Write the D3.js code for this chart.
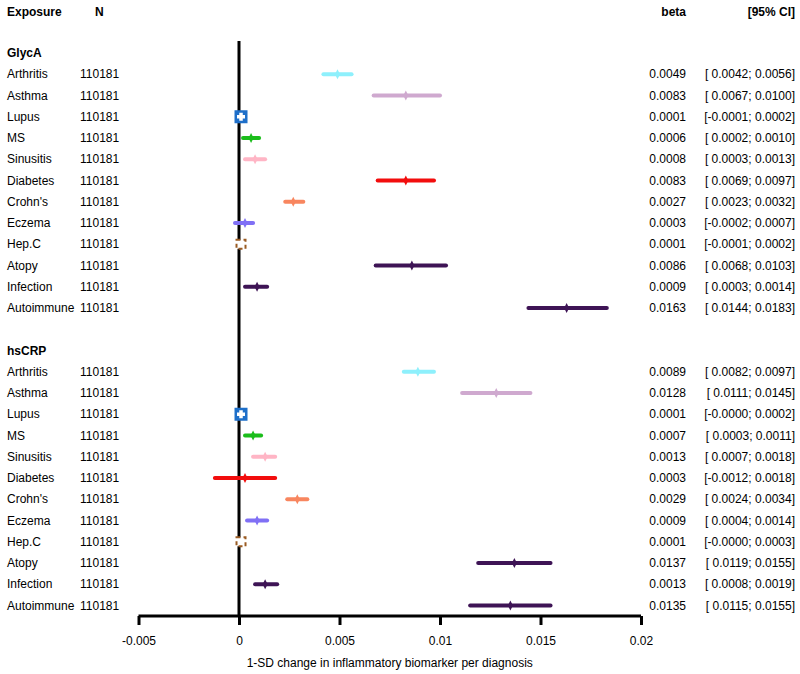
<!DOCTYPE html>
<html><head><meta charset="utf-8">
<script src="https://cdn.jsdelivr.net/npm/d3@7/dist/d3.min.js"></script>
<style>body{margin:0;background:#fff}svg{display:block}text{font-family:"Liberation Sans",Arial,sans-serif;font-size:12px;fill:#000}</style>
</head><body><svg id="c" width="800" height="674"></svg>
<script>
const exposures = ["Arthritis","Asthma","Lupus","MS","Sinusitis","Diabetes","Crohn's","Eczema","Hep.C","Atopy","Infection","Autoimmune"];
const colors = ["#8ef0fc","#cfa9cf","#1e6fc9","#1bbd1b","#ffb5c5","#f20d0d","#f8865f","#8070f5","#9a5b22","#3e1455","#3e1455","#3e1455"];
const groups = ["GlycA","hsCRP"];
const nValues = [110181,110181,110181,110181,110181,110181,110181,110181,110181,110181,110181,110181];
const glycaBeta = [0.0049,0.0083,0.0001,0.0006,0.0008,0.0083,0.0027,0.0003,0.0001,0.0086,0.0009,0.0163];
const glycaLo   = [0.0042,0.0067,-0.0001,0.0002,0.0003,0.0069,0.0023,-0.0002,-0.0001,0.0068,0.0003,0.0144];
const glycaHi   = [0.0056,0.0100,0.0002,0.0010,0.0013,0.0097,0.0032,0.0007,0.0002,0.0103,0.0014,0.0183];
const crpBeta = [0.0089,0.0128,0.0001,0.0007,0.0013,0.0003,0.0029,0.0009,0.0001,0.0137,0.0013,0.0135];
const crpLo   = [0.0082,0.0111,-0.0000,0.0003,0.0007,-0.0012,0.0024,0.0004,-0.0000,0.0119,0.0008,0.0115];
const crpHi   = [0.0097,0.0145,0.0002,0.0011,0.0018,0.0018,0.0034,0.0014,0.0003,0.0155,0.0019,0.0155];
const loStr = {GlycA:["0.0042","0.0067","-0.0001","0.0002","0.0003","0.0069","0.0023","-0.0002","-0.0001","0.0068","0.0003","0.0144"],
               hsCRP:["0.0082","0.0111","-0.0000","0.0003","0.0007","-0.0012","0.0024","0.0004","-0.0000","0.0119","0.0008","0.0115"]};
const xTicks = [-0.005,0,0.005,0.01,0.015,0.02];
const xTickLabels = ["-0.005","0","0.005","0.01","0.015","0.02"];

const svg = d3.select("#c");
const x = d3.scaleLinear().domain([-0.005,0.02]).range([138.5,641]);
const y = d3.scaleLinear().domain([0,26]).range([53,605.5]);

const rows = [];
[[glycaBeta,glycaLo,glycaHi],[crpBeta,crpLo,crpHi]].forEach((s,g)=>{
  exposures.forEach((e,i)=>rows.push({g:groups[g],e,i,n:nValues[i],b:s[0][i],lo:s[1][i],hi:s[2][i],idx:g*14+1+i,col:colors[i]}));
});

// headers
svg.append("text").attr("x",7).attr("y",16).attr("font-weight","bold").text("Exposure");
svg.append("text").attr("x",95).attr("y",16).attr("font-weight","bold").text("N");
svg.append("text").attr("x",686).attr("y",16).attr("text-anchor","end").attr("font-weight","bold").text("beta");
svg.append("text").attr("x",795).attr("y",16).attr("text-anchor","end").attr("font-weight","bold").text("[95% CI]");
groups.forEach((g,k)=>svg.append("text").attr("x",7).attr("y",y(k*14)+4).attr("font-weight","bold").text(g));

// zero line
svg.append("line").attr("x1",x(0)).attr("x2",x(0)).attr("y1",41).attr("y2",616).attr("stroke","#000").attr("stroke-width",3);

// axis
const ax = svg.append("g").attr("transform","translate(0,616)")
  .call(d3.axisBottom(x).tickValues(xTicks).tickFormat((d,i)=>xTickLabels[i]).tickSize(9).tickPadding(11).tickSizeOuter(0));
ax.select(".domain").attr("stroke-width",3).attr("d",`M${x(-0.005)},0H${x(0.02)}`);
ax.selectAll(".tick line").attr("stroke-width",3);
ax.selectAll(".tick text").style("font-size","12px").attr("font-family","Liberation Sans, Arial, sans-serif");
svg.append("text").attr("x",x(0.0075)).attr("y",667).attr("text-anchor","middle").text("1-SD change in inflammatory biomarker per diagnosis");

// rows text
const fmt = d3.format(".4f");
rows.forEach(r=>{
  const yy = y(r.idx);
  svg.append("text").attr("x",7).attr("y",yy+4).text(r.e);
  svg.append("text").attr("x",80).attr("y",yy+4).text(r.n);
  svg.append("text").attr("x",686).attr("y",yy+4).attr("text-anchor","end").text(fmt(r.b));
  const lo = loStr[r.g][r.i];
  const ci = "[" + (lo.startsWith("-")?"":" ") + lo + "; " + fmt(r.hi) + "]";
  svg.append("text").attr("x",795).attr("y",yy+4).attr("text-anchor","end").text(ci);
});

// marks
rows.forEach(r=>{
  const yy = y(r.idx);
  if (r.e==="Lupus") {
    svg.append("rect").attr("x",x(r.b)-6.5).attr("y",yy-6.5).attr("width",13).attr("height",13).attr("fill",r.col);
    svg.append("path").attr("d",`M${x(r.b)-4},${yy}H${x(r.b)+4}M${x(r.b)},${yy-4}V${yy+4}`).attr("stroke","#fff").attr("stroke-width",3.5);
  } else if (r.e==="Hep.C") {
    svg.append("rect").attr("x",x(r.b)-4.5).attr("y",yy-4.5).attr("width",9).attr("height",9).attr("fill","#fff")
      .attr("stroke",r.col).attr("stroke-width",2).attr("stroke-dasharray","4,3");
  } else {
    svg.append("line").attr("x1",x(r.lo)).attr("x2",x(r.hi)).attr("y1",yy).attr("y2",yy).attr("stroke",r.col).attr("stroke-width",4).attr("stroke-linecap","round");
    const cx = x(r.b);
    svg.append("path").attr("d",`M${cx},${yy-5}L${cx+2.5},${yy}L${cx},${yy+5}L${cx-2.5},${yy}Z`).attr("fill",r.col);
  }
});
</script></body></html>
